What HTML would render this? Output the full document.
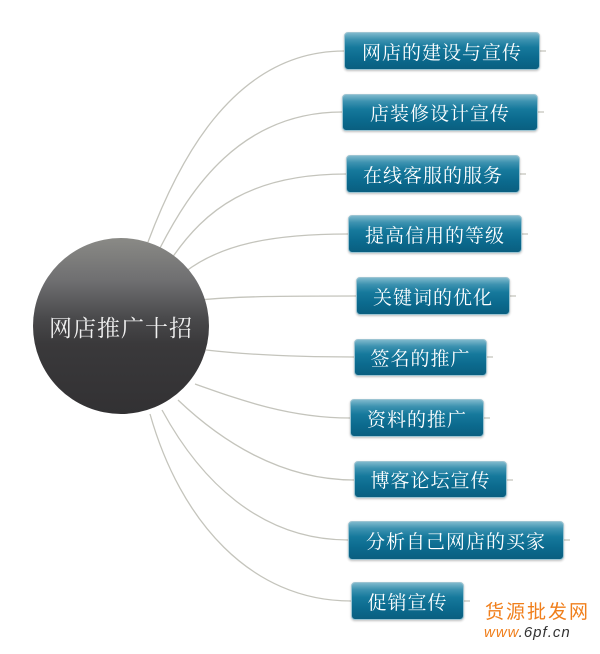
<!DOCTYPE html>
<html><head><meta charset="utf-8"><style>
html,body{margin:0;padding:0;background:#fff;width:600px;height:654px;overflow:hidden;position:relative}
.b{position:absolute;box-sizing:border-box;border:1px solid #9cc4d2;border-radius:4px;
background:linear-gradient(#7db8cc 0%,#3d92b0 18%,#16799c 40%,#0b6a8e 70%,#0a5f80 100%);
color:#fff;font-family:"Liberation Serif","Noto Serif CJK SC",serif;font-size:19px;
display:flex;align-items:center;justify-content:center;letter-spacing:1px;box-shadow:0 1px 2px rgba(0,0,0,.25)}
.c{position:absolute;left:33px;top:238px;width:176px;height:176px;border-radius:50%;
background:linear-gradient(#8a8a86 0%,#6e6e70 25%,#4a4a4c 45%,#3a393b 60%,#323133 100%);
color:#f0f0f0;font-family:"Liberation Serif","Noto Serif CJK SC",serif;font-size:23px;
display:flex;align-items:center;justify-content:center;letter-spacing:1px}
.w{position:absolute;color:#f07f1c;font-family:"Liberation Sans","Noto Sans CJK SC",sans-serif}
</style></head><body>
<svg width="600" height="654" style="position:absolute;left:0;top:0">
<g fill="none" stroke="#c4c4bc" stroke-width="1.3">
<path d="M148 242 C175 170,230 51,344 51"/>
<path d="M160 248 C190 190,240 112,342 112"/>
<path d="M172 258 C205 210,250 174,346 174"/>
<path d="M185 272 C220 245,270 234,348 234"/>
<path d="M200 300 C240 296,290 296,356 296"/>
<path d="M206 350 C250 355,300 357,354 357"/>
<path d="M195 384 C240 400,290 418,350 418"/>
<path d="M178 400 C220 440,280 480,354 480"/>
<path d="M162 410 C200 480,260 540,348 540"/>
<path d="M150 414 C180 520,250 601,351 601"/>
<path d="M540 51 H546 M538 112 H544 M520 174 H526 M522 234 H528 M510 296 H516 M487 357 H493 M484 418 H490 M507 480 H513 M564 540 H570 M464 601 H470"/>
</g></svg>
<div class="c">网店推广十招</div>
<div class="b" style="left:344px;top:32px;width:196px;height:38px">网店的建设与宣传</div>
<div class="b" style="left:342px;top:94px;width:196px;height:37px">店装修设计宣传</div>
<div class="b" style="left:346px;top:155px;width:174px;height:38px">在线客服的服务</div>
<div class="b" style="left:348px;top:215px;width:174px;height:38px">提高信用的等级</div>
<div class="b" style="left:356px;top:277px;width:154px;height:38px">关键词的优化</div>
<div class="b" style="left:354px;top:339px;width:133px;height:37px">签名的推广</div>
<div class="b" style="left:350px;top:399px;width:134px;height:38px">资料的推广</div>
<div class="b" style="left:354px;top:461px;width:153px;height:37px">博客论坛宣传</div>
<div class="b" style="left:348px;top:521px;width:216px;height:39px">分析自己网店的买家</div>
<div class="b" style="left:351px;top:582px;width:113px;height:38px">促销宣传</div>
<div class="w" style="left:485px;top:597px;font-size:19px;letter-spacing:2px">货源批发网</div>
<div class="w" style="left:484px;top:624px;font-size:15px;font-style:italic;letter-spacing:1px">www<span style="color:#333">.6pf.cn</span></div>
</body></html>
